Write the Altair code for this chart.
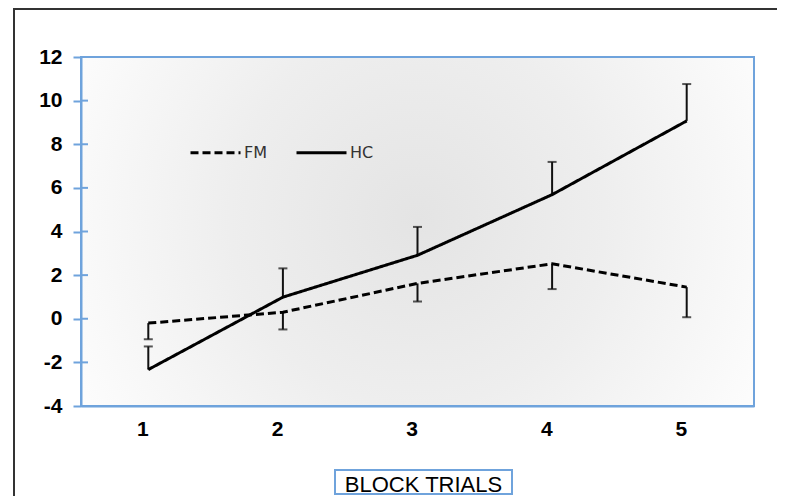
import altair as alt
import pandas as pd

# ---- data ----
trials = [1, 2, 3, 4, 5]
fm_mean = [-0.20, 0.30, 1.62, 2.52, 1.45]
fm_se = [0.74, 0.79, 0.83, 1.16, 1.38]      # drawn downward
hc_mean = [-2.33, 0.99, 2.91, 5.69, 9.07]
hc_se = [1.06, 1.32, 1.30, 1.50, 1.69]      # drawn upward
series = ["FM", "HC"]
y_ticks = [-4, -2, 0, 2, 4, 6, 8, 10, 12]

rows = []
for t, m, s in zip(trials, fm_mean, fm_se):
    rows.append({"trial": t, "group": "FM", "mean": m, "bound": m - s})
for t, m, s in zip(trials, hc_mean, hc_se):
    rows.append({"trial": t, "group": "HC", "mean": m, "bound": m + s})
df = pd.DataFrame(rows)
ticks_df = pd.DataFrame({"v": y_ticks})
one = pd.DataFrame({"k": [0]})

W, H = 673, 349
BLUE = "#6fa3dc"
FONT = "Liberation Sans"

x_enc = alt.X("trial:O", scale=alt.Scale(type="point", padding=0.5),
              axis=alt.Axis(title="BLOCK TRIALS", labelAngle=0, ticks=False, tickSize=0,
                            labelPadding=23, labelFontSize=21, labelFontWeight="bold",
                            labelColor="#000", labelFont=FONT,
                            domainColor=BLUE, domainWidth=2,
                            titleFont=FONT, titleFontSize=22, titleFontWeight="normal",
                            titleColor="#000", titleX=342, titleY=78,
                            titleBaseline="middle", titleAlign="center", zindex=1))
y_scale = alt.Scale(domain=[-4, 12], nice=False, zero=False)
y_enc = alt.Y("mean:Q", scale=y_scale,
              axis=alt.Axis(title=None, values=y_ticks, grid=False, tickSize=8, tickWidth=2,
                            tickColor=BLUE, domainColor=BLUE, domainWidth=2,
                            labelExpr="'' + datum.value",
                            labelPadding=11, labelFontSize=21, labelFontWeight="bold",
                            labelColor="#000", labelFont=FONT, zindex=1))

# background plot area with soft radial shading
bg = alt.Chart(one).mark_rect(
    fill={"gradient": "radial", "x1": 0.5, "y1": 0.48, "r1": 0, "x2": 0.5, "y2": 0.48, "r2": 0.62,
          "stops": [{"offset": 0, "color": "#e4e4e4"}, {"offset": 0.45, "color": "#eeeeee"},
                    {"offset": 0.8, "color": "#f9f9f9"}, {"offset": 1, "color": "#ffffff"}]},
    stroke=BLUE, strokeWidth=2
).encode(x=alt.value(0), x2=alt.value(W), y=alt.value(0), y2=alt.value(H))

# outer black frame
frame = alt.Chart(one).mark_rect(filled=False, stroke="#333", strokeWidth=2).encode(
    x=alt.value(-67), x2=alt.value(720), y=alt.value(-48), y2=alt.value(470))

# box around x title
tbox = alt.Chart(one).mark_rect(fill="white", stroke=BLUE, strokeWidth=2).encode(
    x=alt.value(254), x2=alt.value(431), y=alt.value(413), y2=alt.value(437))

# inner halves of the y ticks (ticks cross the axis)
inner_ticks = alt.Chart(ticks_df).mark_rule(color=BLUE, strokeWidth=2).encode(
    x=alt.value(0), x2=alt.value(7), y=alt.Y("v:Q", scale=y_scale))

lines = alt.Chart(df).mark_line(color="#000", strokeWidth=3).encode(
    x=x_enc, y=y_enc,
    strokeDash=alt.StrokeDash("group:N",
        scale=alt.Scale(domain=series, range=[[8, 4], [1, 0]]),
        legend=alt.Legend(title=None, orient="none", legendX=108, legendY=69,
                          direction="horizontal", symbolType="stroke", symbolSize=2500,
                          symbolStrokeWidth=3, symbolStrokeColor="#000",
                          labelFont="DejaVu Sans", labelFontSize=16, labelColor="#333",
                          labelOffset=2, columnPadding=22)))

err = alt.Chart(df).mark_rule(color="#111", strokeWidth=2).encode(
    x="trial:O", y=alt.Y("mean:Q", scale=y_scale), y2="bound:Q")
caps = alt.Chart(df).mark_tick(color="#111", thickness=2, size=9).encode(
    x="trial:O", y=alt.Y("bound:Q", scale=y_scale))

chart = alt.layer(frame, bg, tbox, inner_ticks, err, caps, lines).properties(
    width=W, height=H,
    padding={"left": 73, "top": 49, "right": 23, "bottom": 90},
    autosize=alt.AutoSizeParams(type="none"),
).configure_view(stroke=None).configure(background="white")

chart.save("out.html", embed_options={"renderer": "svg", "actions": False})
